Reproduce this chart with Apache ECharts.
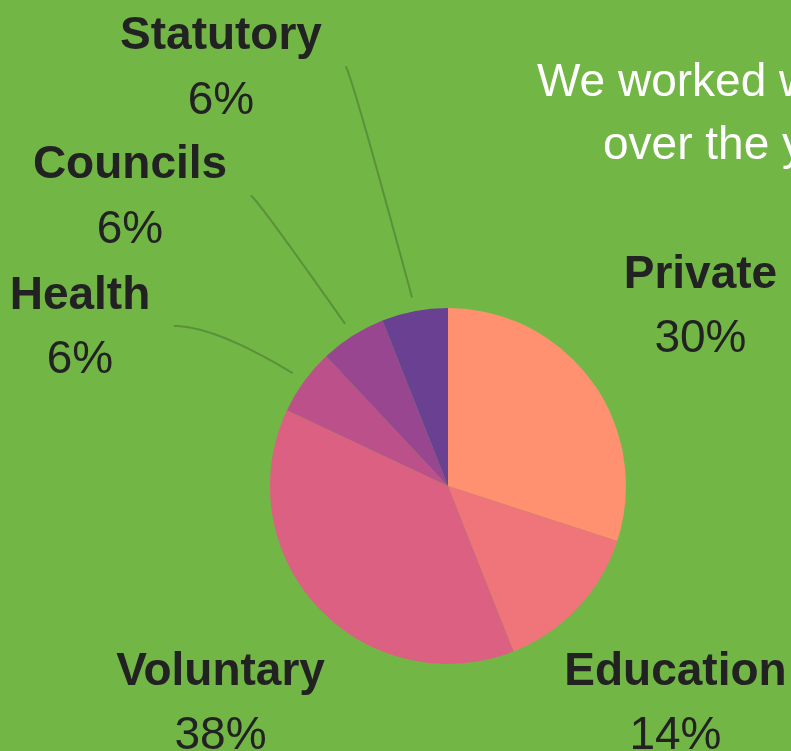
<!DOCTYPE html>
<html>
<head>
<meta charset="utf-8">
<script src="https://cdn.jsdelivr.net/npm/echarts@6/dist/echarts.min.js"></script>
<style>
html,body{margin:0;padding:0;background:#72b646;overflow:hidden}
#c{width:791px;height:751px}
</style>
</head>
<body>
<div id="c"></div>
<script>
// ---- data ----
const categories = ['Private', 'Education', 'Voluntary', 'Health', 'Councils', 'Statutory'];
const shares = [30, 14, 38, 6, 6, 6];
const titleLines = ['We worked with', 'over the year'];

// ---- styling / layout ----
const sliceColors = ['#ff9070', '#f0757a', '#dc6082', '#bc508b', '#994691', '#6a4093'];
const bgColor = '#72b646';
const textColor = '#222222';
const leaderColor = '#5a9139';
const sideLabelCenters = {3: [80, 324], 4: [130, 193.5], 5: [221, 64.5]};
const curveBend = {3: 41, 4: 4, 5: 4};
const glyphShift = 4.5; // canvas 'middle' sits slightly above cap-centre

const chart = echarts.init(document.getElementById('c'), null, {renderer: 'canvas'});

const pieData = categories.map((name, i) => ({name: name, value: shares[i]}));

const option = {
  backgroundColor: bgColor,
  animation: false,
  color: sliceColors,
  graphic: [
    {type: 'text', x: 537, y: 79 + glyphShift, silent: true,
     style: {text: titleLines[0], fill: '#ffffff', font: '46px "Liberation Sans", Arial, sans-serif', align: 'left', verticalAlign: 'middle'}},
    {type: 'text', x: 603, y: 142 + glyphShift, silent: true,
     style: {text: titleLines[1], fill: '#ffffff', font: '46px "Liberation Sans", Arial, sans-serif', align: 'left', verticalAlign: 'middle'}}
  ],
  series: [{
    type: 'pie',
    center: [448, 486],
    radius: [0, 178],
    startAngle: 90,
    clockwise: true,
    avoidLabelOverlap: false,
    itemStyle: {borderWidth: 0},
    emphasis: {disabled: true},
    data: pieData,
    label: {
      show: true,
      position: 'outside',
      color: textColor,
      formatter: '{n|{b}}\n{p|{c}%}',
      rich: {
        n: {fontFamily: '"Liberation Sans", Arial, sans-serif', fontWeight: 'bold', fontSize: 46, lineHeight: 64.5, align: 'center', color: textColor},
        p: {fontFamily: '"Liberation Sans", Arial, sans-serif', fontWeight: 'normal', fontSize: 46, lineHeight: 64.5, align: 'center', color: textColor}
      }
    },
    labelLine: {
      show: true,
      length: 134,
      length2: 10,
      smooth: false,
      lineStyle: {color: leaderColor, width: 2}
    },
    labelLayout: function (p) {
      const i = p.dataIndex;
      const pts = p.labelLinePoints;
      if (!pts) return {};
      const p0 = pts[0], p1 = pts[1];
      const dx = p1[0] - p0[0], dy = p1[1] - p0[1];
      const len = Math.hypot(dx, dy) || 1;
      const ux = dx / len, uy = dy / len;
      const side = sideLabelCenters[i];
      if (!side) {
        return {x: p1[0], y: p1[1] + glyphShift, align: 'center', verticalAlign: 'middle',
                labelLinePoints: [p0.slice(), p0.slice()]};
      }
      const S = [p0[0] + ux * 14, p0[1] + uy * 14];
      const E = [side[0] + p.labelRect.width / 2 + 23.5, side[1] + 2];
      const C = [E[0] + curveBend[i], E[1]];
      const line = [];
      for (let k = 0; k <= 40; k++) {
        const t = k / 40, a = (1 - t) * (1 - t), b = 2 * t * (1 - t), c = t * t;
        line.push([a * S[0] + b * C[0] + c * E[0], a * S[1] + b * C[1] + c * E[1]]);
      }
      return {x: side[0], y: side[1] + glyphShift, align: 'center', verticalAlign: 'middle', labelLinePoints: line};
    }
  }]
};

chart.setOption(option);
</script>
</body>
</html>
